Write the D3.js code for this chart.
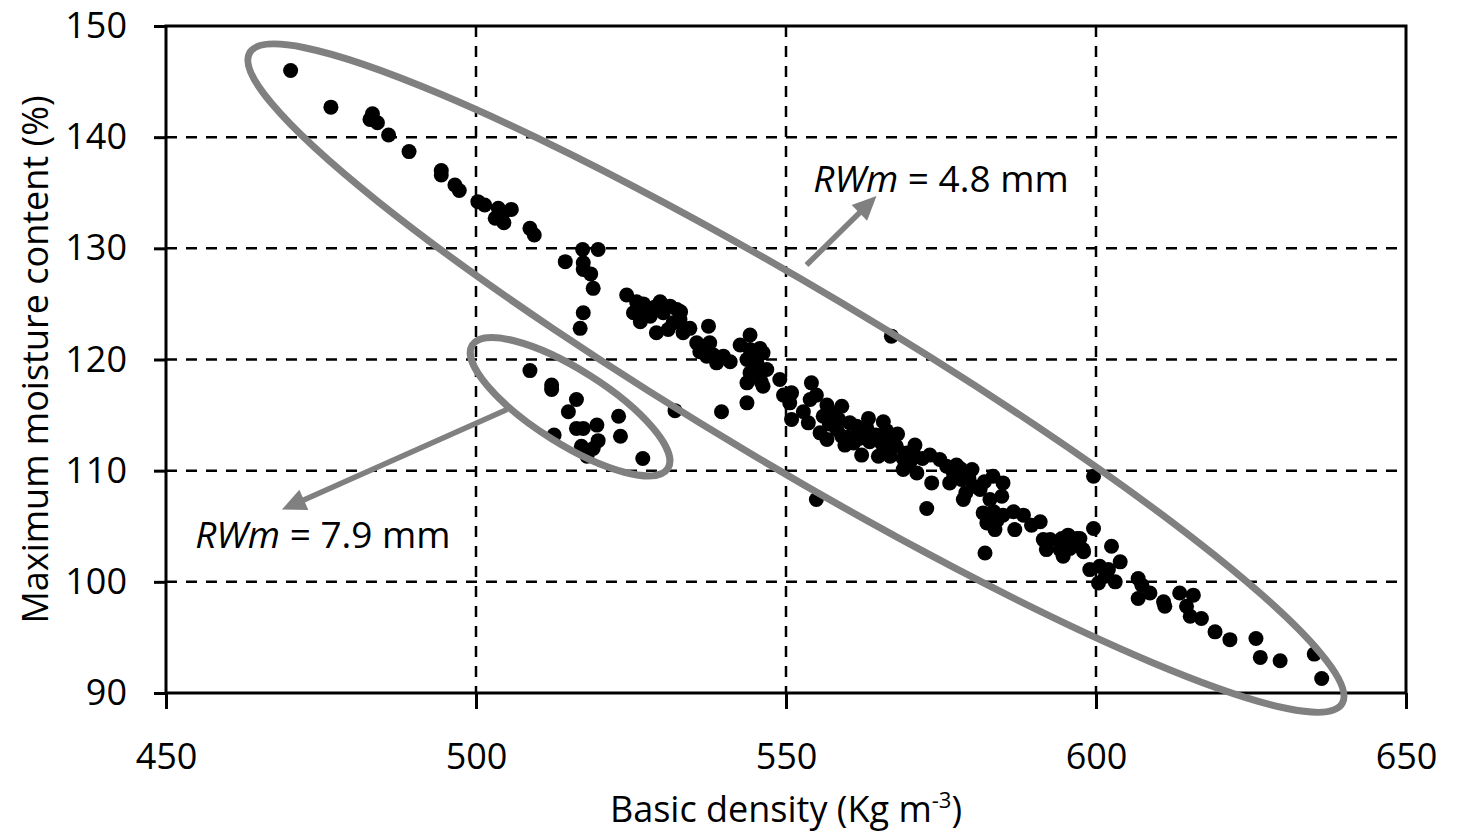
<!DOCTYPE html>
<html>
<head>
<meta charset="utf-8">
<script src="https://cdn.jsdelivr.net/npm/d3@7"></script>
<style>
  body { margin: 0; background: #fff; }
  text { font-family: "Open Sans", "Noto Sans", sans-serif; }
</style>
</head>
<body>
<div id="viz"></div>
<script>
// basic density (kg m-3) and maximum moisture content (%)
const density = [
  470.1, 476.6, 483.3, 482.9, 484.1, 485.9, 489.2, 494.4, 494.4, 496.6, 497.3, 500.3, 501.4, 503.6, 505.7,
  503.1, 504.5, 504.4, 508.7, 509.4, 514.4, 517.2, 519.7, 517.3, 517.3, 518.5, 518.9, 517.3, 516.8, 524.3,
  525.9, 525.4, 526.5, 527.5, 529.7, 531.3, 532.4, 528.1, 529.1, 531.0, 532.9, 533.4, 534.5, 530.2, 537.5,
  535.6, 536.7, 537.7, 536.1, 538.3, 538.8, 539.9, 541.0, 537.2, 544.2, 542.6, 544.2, 545.8, 546.3, 543.7,
  545.3, 546.9, 544.2, 545.8, 543.7, 546.3, 549.0, 549.6, 550.9, 550.6, 550.9, 543.7, 532.1, 539.6,
  554.1, 554.9, 553.9, 556.6, 559.0, 552.8, 553.6, 556.0, 557.6, 555.5, 556.6, 558.2, 559.0, 560.3, 561.4,
  563.3, 565.7, 562.5, 560.9, 562.2, 563.5, 564.9, 566.8, 567.3, 567.8, 568.9, 570.8, 570.0, 571.1, 568.9,
  573.2, 574.8, 573.5, 575.9, 576.4, 578.1, 578.3, 580.0, 578.6, 580.2, 581.3, 581.8, 583.4, 585.0, 584.8,
  582.9, 582.4, 583.7, 586.7, 586.9, 588.3, 589.6, 591.0, 591.5, 592.0, 594.5, 595.5, 597.4, 597.9, 595.8,
  599.6, 599.6, 554.9, 572.7, 582.1, 567.0, 557.0, 559.5, 561.8, 564.5, 565.5, 566.2, 569.5, 572.0, 577.0,
  579.5, 602.5, 592.6, 594.2, 596.9, 598.0, 594.7, 599.0, 600.6, 602.0, 600.4, 603.1, 603.9, 601.5, 606.8,
  607.4, 606.8, 608.7, 610.9, 611.1, 613.5, 614.6, 615.7, 615.2, 617.0, 619.2, 621.6, 625.8, 626.5, 629.7,
  635.2, 636.4,
  527.0, 528.8, 526.8, 531.8, 533.0, 545.0, 544.8, 546.0, 558.5, 560.0, 563.0, 566.0, 568.0, 570.5, 577.5,
  579.0, 582.0, 583.5, 585.0, 584.0,
  508.7, 512.2, 512.2, 516.2, 514.9, 523.0, 516.2, 517.3, 519.5, 512.6, 523.3, 519.7, 518.9, 517.0, 517.9,
  526.9
];
const moisture = [
  146.0, 142.7, 142.1, 141.6, 141.3, 140.2, 138.7, 137.0, 136.6, 135.7, 135.2, 134.2, 133.9, 133.6, 133.5,
  132.7, 132.3, 133.2, 131.8, 131.2, 128.8, 129.9, 129.9, 128.7, 128.1, 127.7, 126.4, 124.2, 122.8, 125.8,
  125.2, 124.2, 123.4, 124.5, 125.2, 124.8, 124.5, 123.9, 122.4, 122.7, 123.6, 122.4, 122.8, 124.2, 123.0,
  121.5, 121.2, 121.5, 120.7, 120.4, 119.7, 120.3, 119.8, 120.3, 122.2, 121.3, 120.9, 121.0, 120.6, 120.0,
  119.7, 119.1, 118.8, 118.5, 117.9, 117.6, 118.2, 116.8, 117.0, 116.1, 114.6, 116.1, 115.4, 115.3,
  117.9, 116.8, 116.4, 115.9, 115.8, 115.3, 114.3, 114.9, 115.2, 113.4, 112.8, 113.7, 113.1, 114.3, 114.0,
  114.7, 114.4, 113.4, 112.5, 111.4, 112.6, 111.3, 111.3, 112.8, 112.2, 111.1, 112.3, 110.8, 109.8, 110.1,
  111.4, 111.0, 108.9, 110.4, 108.9, 110.2, 109.2, 110.1, 107.4, 108.6, 108.3, 106.2, 109.5, 108.9, 107.7,
  107.4, 105.3, 104.7, 106.3, 104.7, 106.0, 105.1, 105.4, 103.8, 102.9, 103.9, 104.2, 103.9, 102.9, 103.0,
  109.5, 104.8, 107.4, 106.6, 102.6, 122.1, 114.2, 112.3, 112.9, 113.2, 112.4, 113.6, 111.6, 111.1, 109.8,
  109.3, 103.2, 103.8, 102.9, 103.9, 102.7, 102.3, 101.1, 101.4, 101.1, 99.9, 100.0, 101.8, 100.5, 100.3,
  99.7, 98.5, 99.0, 98.2, 97.8, 99.0, 97.8, 98.8, 96.9, 96.7, 95.5, 94.8, 94.9, 93.2, 92.9,
  93.5, 91.3,
  125.0, 124.7, 124.0, 123.3, 124.3, 120.2, 119.2, 118.0, 114.6, 113.0, 113.9, 112.0, 113.3, 111.6, 110.5,
  108.0, 109.0, 106.3, 106.0, 105.5,
  119.0, 117.7, 117.3, 116.4, 115.3, 114.9, 113.8, 113.8, 114.1, 113.2, 113.1, 112.7, 112.0, 112.2, 111.3,
  111.1
];

const xTicks = [450, 500, 550, 600, 650];
const yTicks = [90, 100, 110, 120, 130, 140, 150];

// annotation ellipses: major axis ends (data units) and half width in px
const ellipseEnds = [
  [[463.5, 147.6], [639.7, 89.05]],
  [[499.4, 121.3], [530.95, 110.2]]
];
const ellipseHalfWidth = [88, 37];

// arrows: start -> tip (data units), labels
const arrowStart = [[505.0, 115.5], [553.3, 128.5]];
const arrowTip = [[468.7, 106.5], [564.6, 134.7]];
const labelPos = [[454.7, 103.05], [554.4, 135.1]];
const labelValue = ["7.9", "4.8"];

let width = 1459;
let height = 834;

let data = density.map((d, i) => ({ x: d, y: moisture[i] }));

let xScale = d3.scaleLinear().domain([450, 650]).range([166, 1406]);
let yScale = d3.scaleLinear().domain([90, 150]).range([693, 26]);

let svg = d3.select("#viz").append("svg")
  .attr("width", width)
  .attr("height", height);

// dashed grid
svg.append("g")
  .selectAll("line")
  .data(xTicks.slice(1, -1))
  .enter().append("line")
  .attr("x1", d => xScale(d)).attr("x2", d => xScale(d))
  .attr("y1", yScale(150)).attr("y2", yScale(90))
  .attr("stroke", "#000").attr("stroke-width", 2.5)
  .attr("stroke-dasharray", "11,9");

svg.append("g")
  .selectAll("line")
  .data(yTicks.slice(1, -1))
  .enter().append("line")
  .attr("x1", xScale(450)).attr("x2", xScale(650))
  .attr("y1", d => yScale(d)).attr("y2", d => yScale(d))
  .attr("stroke", "#000").attr("stroke-width", 2.5)
  .attr("stroke-dasharray", "11,9");

// axes
let xAxis = svg.append("g")
  .attr("transform", `translate(0,${yScale(90)})`)
  .call(d3.axisBottom(xScale).tickValues(xTicks).tickSize(16).tickPadding(34).tickFormat(d3.format("d")));

let yAxis = svg.append("g")
  .attr("transform", `translate(${xScale(450)},0)`)
  .call(d3.axisLeft(yScale).tickValues(yTicks).tickSize(12).tickPadding(27).tickFormat(d3.format("d")));

[xAxis, yAxis].forEach(ax => {
  ax.select(".domain").remove();
  ax.selectAll(".tick line").attr("stroke", "#000").attr("stroke-width", 3);
  ax.selectAll("text")
    .style("font-family", '"Open Sans", sans-serif')
    .style("font-size", "36px")
    .attr("fill", "#000");
});

// plot frame
svg.append("rect")
  .attr("x", xScale(450))
  .attr("y", yScale(150))
  .attr("width", xScale(650) - xScale(450))
  .attr("height", yScale(90) - yScale(150))
  .attr("fill", "none")
  .attr("stroke", "#000")
  .attr("stroke-width", 3);

// points
svg.append("g")
  .selectAll("circle")
  .data(data)
  .enter().append("circle")
  .attr("cx", d => xScale(d.x))
  .attr("cy", d => yScale(d.y))
  .attr("r", 7.5)
  .attr("fill", "#000");

// ellipses
let grey = "#808080";
ellipseEnds.forEach((e, i) => {
  let x1 = xScale(e[0][0]), y1 = yScale(e[0][1]);
  let x2 = xScale(e[1][0]), y2 = yScale(e[1][1]);
  let cx = (x1 + x2) / 2, cy = (y1 + y2) / 2;
  let rx = Math.hypot(x2 - x1, y2 - y1) / 2;
  let ang = Math.atan2(y2 - y1, x2 - x1) * 180 / Math.PI;
  svg.append("ellipse")
    .attr("cx", cx).attr("cy", cy)
    .attr("rx", rx).attr("ry", ellipseHalfWidth[i])
    .attr("transform", `rotate(${ang},${cx},${cy})`)
    .attr("fill", "none")
    .attr("stroke", grey)
    .attr("stroke-width", 7);
});

// arrows
arrowStart.forEach((s, i) => {
  let x1 = xScale(s[0]), y1 = yScale(s[1]);
  let x2 = xScale(arrowTip[i][0]), y2 = yScale(arrowTip[i][1]);
  let len = Math.hypot(x2 - x1, y2 - y1);
  let ux = (x2 - x1) / len, uy = (y2 - y1) / len;
  let headL = 24, headW = 11;
  let bx = x2 - ux * headL, by = y2 - uy * headL;
  svg.append("line")
    .attr("x1", x1).attr("y1", y1)
    .attr("x2", bx + ux * 2).attr("y2", by + uy * 2)
    .attr("stroke", grey)
    .attr("stroke-width", 5.5);
  svg.append("polygon")
    .attr("points", [[x2, y2], [bx - uy * headW, by + ux * headW], [bx + uy * headW, by - ux * headW]].map(p => p.join(",")).join(" "))
    .attr("fill", grey);
});

// RWm labels
labelPos.forEach((p, i) => {
  let t = svg.append("text")
    .attr("x", xScale(p[0]))
    .attr("y", yScale(p[1]))
    .style("font-size", "37px")
    .attr("fill", "#000");
  t.append("tspan").style("font-style", "italic").text("RWm");
  t.append("tspan").text(" = " + labelValue[i] + " mm");
});

// axis titles
let xTitle = svg.append("text")
  .attr("x", (xScale(450) + xScale(650)) / 2)
  .attr("y", 822)
  .style("text-anchor", "middle")
  .style("font-size", "36px")
  .attr("fill", "#000");
xTitle.append("tspan").text("Basic density (Kg m");
xTitle.append("tspan").attr("dy", -14).style("font-size", "22px").text("-3");
xTitle.append("tspan").attr("dy", 14).text(")");

svg.append("text")
  .attr("transform", `translate(48,${(yScale(90) + yScale(150)) / 2}) rotate(-90)`)
  .style("text-anchor", "middle")
  .style("font-size", "36px")
  .attr("fill", "#000")
  .text("Maximum moisture content (%)");
</script>
</body>
</html>
